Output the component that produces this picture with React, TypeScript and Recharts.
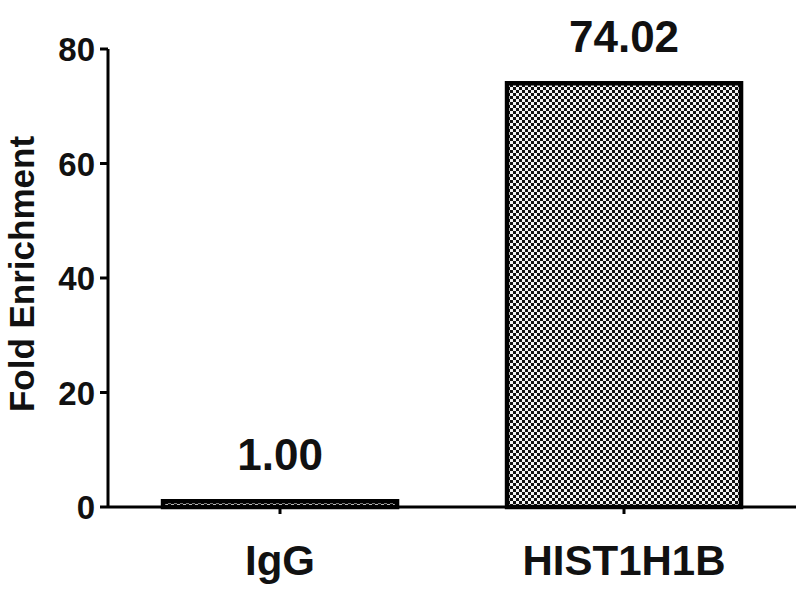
import React from "react";
import { BarChart, Bar, XAxis, YAxis, LabelList } from "recharts";

const categories = ["IgG", "HIST1H1B"];
const values = [1.0, 74.02];
const yTicks = [0, 20, 40, 60, 80];
const yLabel = "Fold Enrichment";

const data = categories.map((c, i) => ({ name: c, value: values[i] }));

const FONT = "'Liberation Sans', Arial, sans-serif";

const XTick = (props: any) => {
  const { x, y, payload } = props;
  return (
    <g>
      <line x1={x} x2={x} y1={y - 8} y2={y - 1} stroke="#000" strokeWidth={3} />
      <text x={x} y={y + 60} textAnchor="middle" fontFamily={FONT} fontWeight="bold" fontSize={42} fill="#111">
        {payload.value}
      </text>
    </g>
  );
};

const YTick = (props: any) => {
  const { x, y, payload } = props;
  return (
    <text x={x - 3} y={y + 12} textAnchor="end" fontFamily={FONT} fontWeight="bold" fontSize={33} fill="#111">
      {payload.value}
    </text>
  );
};

const ValueLabel = (props: any) => {
  const { x, y, width, value } = props;
  return (
    <text x={x + width / 2} y={y - 31} textAnchor="middle" fontFamily={FONT} fontWeight="bold" fontSize={44} fill="#111">
      {Number(value).toFixed(2)}
    </text>
  );
};

export default function App() {
  return (
    <div style={{ position: "absolute", left: 0, top: 0, width: 800, height: 600, background: "#fff" }}>
      <BarChart
        width={800}
        height={600}
        data={data}
        margin={{ top: 49, right: 4, bottom: 0, left: 0 }}
        barCategoryGap="16%"
      >
        <defs>
          <pattern id="checker" width="6" height="6" patternUnits="userSpaceOnUse">
            <rect width="6" height="6" fill="#f4f4f4" />
            <rect x="0" y="0" width="3" height="3" fill="#111" />
            <rect x="3" y="3" width="3" height="3" fill="#111" />
          </pattern>
        </defs>
        <XAxis
          dataKey="name"
          height={93}
          axisLine={{ stroke: "#000", strokeWidth: 3 }}
          tickLine={false}
          tick={<XTick />}
          interval={0}
        />
        <YAxis
          width={108}
          domain={[0, 80]}
          ticks={yTicks}
          axisLine={{ stroke: "#000", strokeWidth: 3 }}
          tickLine={{ stroke: "#000", strokeWidth: 3 }}
          tickSize={8}
          tick={<YTick />}
          label={{
            value: yLabel,
            angle: -90,
            position: "insideLeft",
            dx: 17,
            dy: -4,
            style: { fontFamily: FONT, fontWeight: "bold", fontSize: 35, fill: "#111", textAnchor: "middle" },
          }}
        />
        <Bar dataKey="value" fill="url(#checker)" stroke="#000" strokeWidth={4.5} isAnimationActive={false}>
          <LabelList dataKey="value" content={<ValueLabel />} />
        </Bar>
      </BarChart>
    </div>
  );
}
